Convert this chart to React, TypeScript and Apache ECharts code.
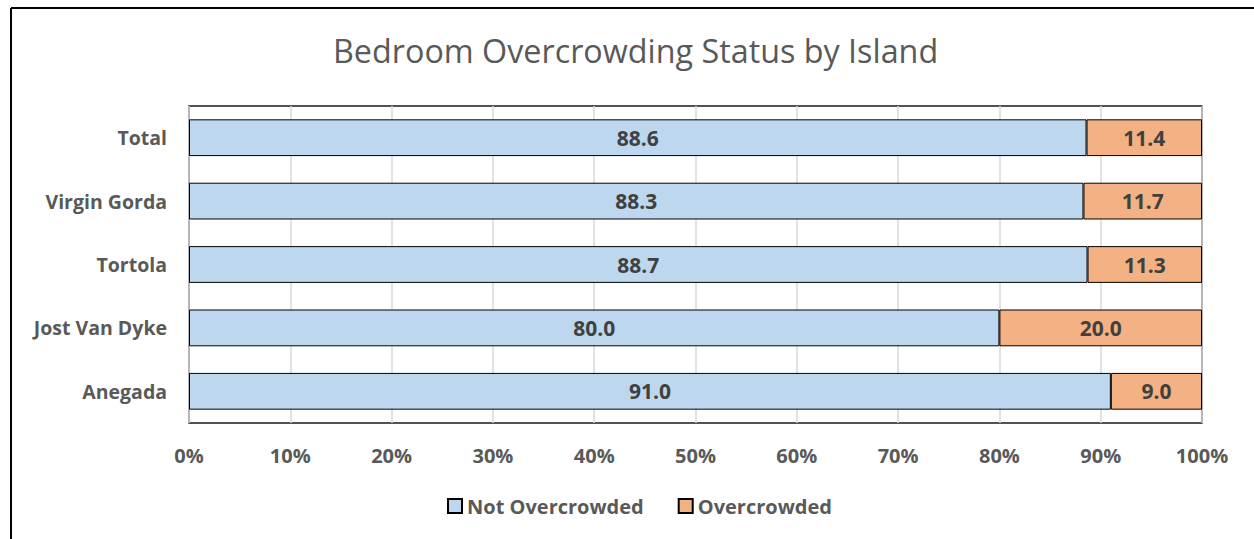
import React, { useEffect, useRef } from "react";
import * as echarts from "echarts";

const categories = ["Anegada", "Jost Van Dyke", "Tortola", "Virgin Gorda", "Total"];
const notOvercrowded = [91.0, 80.0, 88.7, 88.3, 88.6];
const overcrowded = [9.0, 20.0, 11.3, 11.7, 11.4];
const seriesNames = ["Not Overcrowded", "Overcrowded"];
const titleText = "Bedroom Overcrowding Status by Island";

const FONT = "'Open Sans', 'Noto Sans', sans-serif";

export default function App() {
  const ref = useRef<HTMLDivElement>(null);
  useEffect(() => {
    document.body.style.margin = "0";
    const chart = echarts.init(ref.current!, null, { renderer: "svg" });
    const label = {
      show: true,
      position: "inside" as const,
      formatter: (p: any) => Number(p.value).toFixed(1),
      color: "#404040",
      fontWeight: "bold" as const,
      fontSize: 21,
      fontFamily: FONT,
    };
    chart.setOption({
      animation: false,
      backgroundColor: "#ffffff",
      title: {
        text: titleText,
        left: 328,
        top: 29,
        textStyle: { color: "#595959", fontSize: 32.3, fontWeight: "normal", fontFamily: FONT },
      },
      legend: {
        bottom: 18,
        left: 442,
        itemWidth: 14,
        itemHeight: 14,
        itemGap: 34,
        icon: "rect",
        textStyle: { color: "#595959", fontSize: 20, fontWeight: "bold", fontFamily: FONT },
        data: seriesNames,
      },
      grid: {
        left: 189,
        right: 52,
        top: 106,
        bottom: 116,
        show: true,
        borderColor: "#1a1a1a",
        borderWidth: 1.5,
      },
      xAxis: {
        type: "value",
        min: 0,
        max: 100,
        interval: 10,
        axisLine: { show: false },
        axisTick: { show: false },
        splitLine: { show: true, lineStyle: { color: "#d9d9d9", width: 1.5 } },
        axisLabel: {
          formatter: "{value}%",
          color: "#595959",
          fontSize: 20,
          fontWeight: "bold",
          fontFamily: FONT,
          margin: 22,
        },
      },
      yAxis: {
        type: "category",
        data: categories,
        axisLine: { show: false },
        axisTick: { show: false },
        axisLabel: {
          color: "#595959",
          fontSize: 19.5,
          fontWeight: "bold",
          fontFamily: FONT,
          margin: 22,
        },
      },
      series: [
        {
          name: seriesNames[0],
          type: "bar",
          stack: "total",
          data: notOvercrowded,
          barWidth: "58%",
          itemStyle: { color: "#BDD7EE", borderColor: "#000000", borderWidth: 1 },
          label,
        },
        {
          name: seriesNames[1],
          type: "bar",
          stack: "total",
          data: overcrowded,
          barWidth: "58%",
          itemStyle: { color: "#F4B183", borderColor: "#000000", borderWidth: 1 },
          label,
        },
      ],
      graphic: [
        { type: "line", shape: { x1: 11, y1: 8, x2: 1254, y2: 8 }, style: { stroke: "#000", lineWidth: 2 } },
        { type: "line", shape: { x1: 11, y1: 8, x2: 11, y2: 539 }, style: { stroke: "#000", lineWidth: 2 } },
      ],
    });
    return () => chart.dispose();
  }, []);
  return <div ref={ref} style={{ width: 1254, height: 539 }} />;
}
